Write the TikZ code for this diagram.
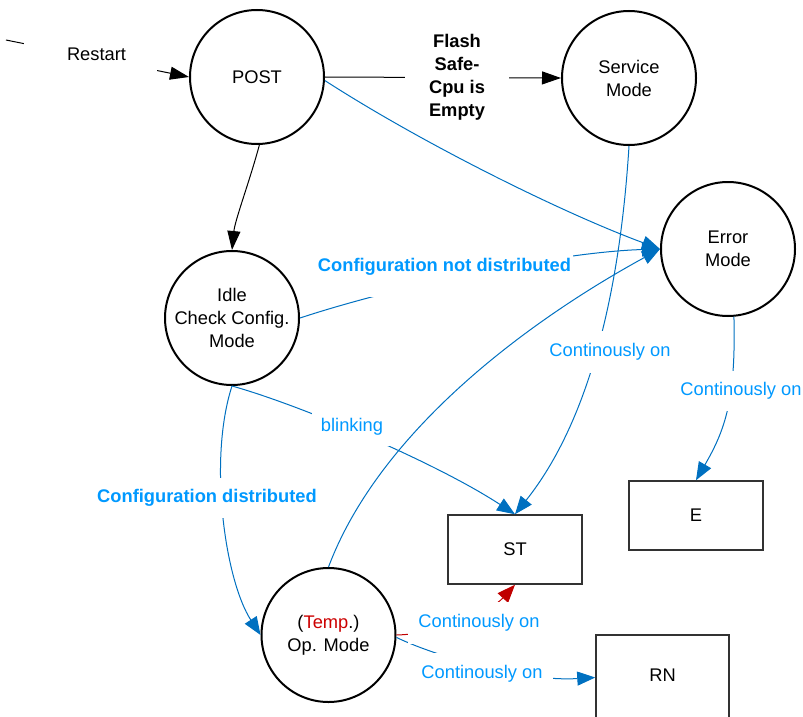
\documentclass[tikz,border=0pt]{standalone}
\usepackage{fontspec}
\setmainfont{Liberation Sans}
\usetikzlibrary{arrows.meta}
\definecolor{lineblue}{RGB}{0,112,192}
\definecolor{labelblue}{RGB}{0,153,255}
\definecolor{arrred}{RGB}{192,0,0}
\definecolor{tempred}{RGB}{204,0,0}
\definecolor{boxgray}{RGB}{50,50,50}
\newcommand\myfs{\fontsize{18.3}{23}\selectfont}
\tikzset{
  state/.style={circle, draw=black, line width=2pt, minimum size=134pt, inner sep=0pt, align=center, font=\myfs},
  stbox/.style={rectangle, draw=boxgray, line width=1.5pt, minimum width=134pt, minimum height=69pt, inner sep=0pt, font=\myfs},
  bkarr/.style={draw=black, line width=1pt, -{Triangle[length=19pt,width=13pt]}},
  blarr/.style={draw=lineblue, line width=1pt, -{Triangle[length=18pt,width=14pt]}},
  rdarr/.style={draw=arrred, line width=1pt, -{Triangle[length=18pt,width=14pt]}},
  lbl/.style={fill=white, inner sep=0pt, align=center, text=labelblue, font=\myfs},
  blbl/.style={lbl, font=\myfs\bfseries},
}
\begin{document}
\begin{tikzpicture}[x=1pt,y=-1pt]
\useasboundingbox (0,0) rectangle (803,717);
\clip (0,0) rectangle (803,717);
% states
\node[state] (post) at (257,77) {POST};
\node[state] (svc) at (629,78) {Service\\Mode};
\node[state] (err) at (728,249) {Error\\Mode};
\node[state] (idle) at (232,318) {Idle\\Check Config.\\Mode};
\node[state] (op) at (328.5,635) {(\textcolor{tempred}{Temp}.)\\Op. Mode};
\node[stbox] (st) at (515,549.5) {ST};
\node[stbox] (ebox) at (696,515.5) {E};
\node[stbox, minimum width=133pt, minimum height=85pt] (rn) at (662.5,677.5) {};
\node[font=\myfs] (rnt) at (662.5,675) {RN};
% connectors
\coordinate (rs) at (6,40);
\draw[bkarr] (rs) -- (post.west);
\draw[bkarr] (post.east) -- (svc.west);
\draw[bkarr] (post.272) .. controls (250,180) and (235,220) .. (idle.north);
\draw[blarr] (post.-3) .. controls (420,142) and (560,212) .. (err.west);
\draw[blarr] (svc.south) .. controls (620,290) and (590,420) .. (st.north);
\draw[blarr] (idle.east) .. controls (400,285) and (560,252) .. (err.west);
\draw[blarr] (idle.south) .. controls (300,405) and (435,462) .. (st.north);
\draw[blarr] (idle.south) .. controls (208,460) and (225,580) .. (op.west);
\draw[blarr] (op.north) .. controls (380,430) and (530,320) .. (err.west);
\draw[blarr] (err.275) .. controls (736,400) and (725,430) .. (ebox.north);
\draw[rdarr] (op.east) .. controls (440,634) and (490,612) .. (st.south);
\draw[blarr] (op.-2) .. controls (430,654) and (520,682) .. (rn.west);
% labels
\node[fill=white, inner sep=0pt, minimum width=133pt, minimum height=36pt, font=\myfs] (lrs) at (90.5,54) {\hspace*{12pt}Restart};
\node[fill=white, inner sep=0pt, minimum width=104pt, minimum height=100pt, align=center, font=\myfs\bfseries] (lfl) at (457,77) {Flash\\Safe-\\Cpu is\\Empty};
\node[blbl, minimum width=257pt, minimum height=60pt] (lnd) at (444.5,267) {Configuration not distributed};
\node[blbl, minimum width=224pt, minimum height=40pt] (ld) at (207,498) {Configuration distributed};
\node[lbl, minimum width=80pt, minimum height=38pt] (lbk) at (352,427) {blinking};
\node[lbl, minimum width=142pt, minimum height=42pt] (lc1) at (610,352) {Continously on};
\node[lbl, minimum width=122pt, minimum height=40pt] (lc2) at (741,391) {Continously on};
\node[lbl, minimum width=142pt, minimum height=42pt] (lc3) at (479,623) {Continously on};
\node[lbl, minimum width=142pt, minimum height=42pt] (lc4) at (482,674) {Continously on};
\end{tikzpicture}
\end{document}
